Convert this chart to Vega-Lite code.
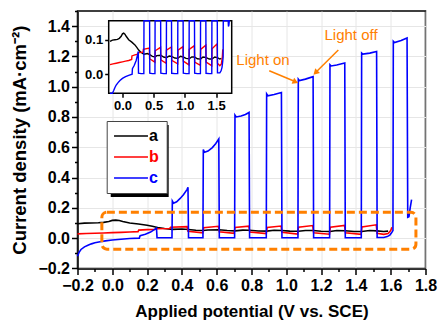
{
  "$schema": "https://vega.github.io/schema/vega-lite/v6.json",
  "width": 348,
  "height": 257.4,
  "autosize": {"type": "none"},
  "padding": {"left": 77.5, "top": 11, "right": 16.5, "bottom": 53.6},
  "background": "white",
  "config": {
    "font": "Liberation Sans",
    "view": {"stroke": "black", "strokeWidth": 1.5},
    "axis": {
      "domainColor": "black", "domainWidth": 1.5, "tickColor": "black", "tickWidth": 1.5,
      "labelColor": "black", "titleColor": "black", "labelFontWeight": "bold", "titleFontWeight": "bold",
      "labelFont": "Liberation Sans", "titleFont": "Liberation Sans", "gridColor": "#e6e6e6", "gridWidth": 1,
      "labelOverlap": false, "labelFlush": false
    }
  },
  "datasets": {
    "curves": [
      {"s":"a","V":-0.2,"J":0.095},{"s":"a","V":-0.16,"J":0.099},{"s":"a","V":-0.12,"J":0.1},{"s":"a","V":-0.08,"J":0.101},
      {"s":"a","V":-0.05,"J":0.104},{"s":"a","V":-0.02,"J":0.11},{"s":"a","V":0.0,"J":0.117},{"s":"a","V":0.02,"J":0.119},
      {"s":"a","V":0.04,"J":0.116},{"s":"a","V":0.06,"J":0.11},{"s":"a","V":0.1,"J":0.1},{"s":"a","V":0.15,"J":0.093},
      {"s":"a","V":0.2,"J":0.085},{"s":"a","V":0.23,"J":0.078},{"s":"a","V":0.26,"J":0.07},{"s":"a","V":0.3,"J":0.063},
      {"s":"a","V":0.345,"J":0.058},{"s":"a","V":0.4,"J":0.06},{"s":"a","V":0.437,"J":0.057},{"s":"a","V":0.48,"J":0.052},
      {"s":"a","V":0.523,"J":0.05},{"s":"a","V":0.55,"J":0.054},{"s":"a","V":0.613,"J":0.055},{"s":"a","V":0.66,"J":0.05},
      {"s":"a","V":0.705,"J":0.048},{"s":"a","V":0.75,"J":0.053},{"s":"a","V":0.787,"J":0.052},{"s":"a","V":0.84,"J":0.047},
      {"s":"a","V":0.887,"J":0.046},{"s":"a","V":0.93,"J":0.052},{"s":"a","V":0.973,"J":0.05},{"s":"a","V":1.02,"J":0.046},
      {"s":"a","V":1.069,"J":0.045},{"s":"a","V":1.11,"J":0.05},{"s":"a","V":1.155,"J":0.05},{"s":"a","V":1.2,"J":0.045},
      {"s":"a","V":1.251,"J":0.044},{"s":"a","V":1.29,"J":0.05},{"s":"a","V":1.337,"J":0.049},{"s":"a","V":1.39,"J":0.044},
      {"s":"a","V":1.433,"J":0.044},{"s":"a","V":1.48,"J":0.05},{"s":"a","V":1.52,"J":0.048},{"s":"a","V":1.56,"J":0.044},
      {"s":"a","V":1.585,"J":0.046},

      {"s":"b","V":-0.2,"J":0.028},{"s":"b","V":-0.15,"J":0.03},{"s":"b","V":-0.1,"J":0.032},{"s":"b","V":-0.05,"J":0.034},
      {"s":"b","V":0.0,"J":0.036},{"s":"b","V":0.05,"J":0.038},{"s":"b","V":0.1,"J":0.04},{"s":"b","V":0.148,"J":0.043},
      {"s":"b","V":0.152,"J":0.053},{"s":"b","V":0.2,"J":0.056},{"s":"b","V":0.245,"J":0.058},{"s":"b","V":0.25,"J":0.062},
      {"s":"b","V":0.33,"J":0.064},{"s":"b","V":0.335,"J":0.072},{"s":"b","V":0.43,"J":0.076},{"s":"b","V":0.435,"J":0.045},
      {"s":"b","V":0.52,"J":0.035},{"s":"b","V":0.525,"J":0.068},{"s":"b","V":0.61,"J":0.078},{"s":"b","V":0.615,"J":0.042},
      {"s":"b","V":0.7,"J":0.032},{"s":"b","V":0.705,"J":0.07},{"s":"b","V":0.785,"J":0.079},{"s":"b","V":0.79,"J":0.04},
      {"s":"b","V":0.885,"J":0.03},{"s":"b","V":0.89,"J":0.07},{"s":"b","V":0.97,"J":0.08},{"s":"b","V":0.975,"J":0.038},
      {"s":"b","V":1.065,"J":0.027},{"s":"b","V":1.07,"J":0.072},{"s":"b","V":1.152,"J":0.083},{"s":"b","V":1.157,"J":0.035},
      {"s":"b","V":1.248,"J":0.026},{"s":"b","V":1.253,"J":0.072},{"s":"b","V":1.335,"J":0.084},{"s":"b","V":1.34,"J":0.035},
      {"s":"b","V":1.43,"J":0.025},{"s":"b","V":1.435,"J":0.074},{"s":"b","V":1.517,"J":0.088},{"s":"b","V":1.522,"J":0.032},
      {"s":"b","V":1.56,"J":0.025},{"s":"b","V":1.585,"J":0.03},{"s":"b","V":1.6,"J":0.05},{"s":"b","V":1.607,"J":0.072},

      {"s":"c","V":-0.2,"J":-0.12},{"s":"c","V":-0.19,"J":-0.092},{"s":"c","V":-0.18,"J":-0.075},{"s":"c","V":-0.16,"J":-0.058},
      {"s":"c","V":-0.14,"J":-0.047},{"s":"c","V":-0.12,"J":-0.038},{"s":"c","V":-0.1,"J":-0.031},{"s":"c","V":-0.07,"J":-0.024},
      {"s":"c","V":-0.04,"J":-0.018},{"s":"c","V":0.0,"J":-0.012},{"s":"c","V":0.05,"J":-0.007},{"s":"c","V":0.1,"J":-0.003},
      {"s":"c","V":0.155,"J":0.0},{"s":"c","V":0.16,"J":0.016},{"s":"c","V":0.19,"J":0.026},{"s":"c","V":0.22,"J":0.04},
      {"s":"c","V":0.25,"J":0.062},{"s":"c","V":0.254,"J":0.066},{"s":"c","V":0.257,"J":0.003},{"s":"c","V":0.3,"J":0.002},
      {"s":"c","V":0.343,"J":0.002},{"s":"c","V":0.345,"J":0.245},{"s":"c","V":0.352,"J":0.231},{"s":"c","V":0.37,"J":0.24},
      {"s":"c","V":0.39,"J":0.262},{"s":"c","V":0.41,"J":0.288},{"s":"c","V":0.43,"J":0.322},{"s":"c","V":0.435,"J":0.336},
      {"s":"c","V":0.438,"J":0.003},{"s":"c","V":0.48,"J":0.002},{"s":"c","V":0.521,"J":0.002},{"s":"c","V":0.523,"J":0.585},
      {"s":"c","V":0.53,"J":0.567},{"s":"c","V":0.55,"J":0.575},{"s":"c","V":0.575,"J":0.598},{"s":"c","V":0.595,"J":0.625},
      {"s":"c","V":0.612,"J":0.655},{"s":"c","V":0.615,"J":0.003},{"s":"c","V":0.66,"J":0.002},{"s":"c","V":0.703,"J":0.002},
      {"s":"c","V":0.705,"J":0.812},{"s":"c","V":0.712,"J":0.8},{"s":"c","V":0.74,"J":0.806},{"s":"c","V":0.765,"J":0.816},
      {"s":"c","V":0.786,"J":0.83},{"s":"c","V":0.789,"J":0.003},{"s":"c","V":0.84,"J":0.002},{"s":"c","V":0.885,"J":0.002},
      {"s":"c","V":0.887,"J":0.952},{"s":"c","V":0.894,"J":0.94},{"s":"c","V":0.93,"J":0.948},{"s":"c","V":0.972,"J":0.962},
      {"s":"c","V":0.975,"J":0.003},{"s":"c","V":1.02,"J":0.002},{"s":"c","V":1.067,"J":0.002},{"s":"c","V":1.069,"J":1.05},
      {"s":"c","V":1.076,"J":1.04},{"s":"c","V":1.11,"J":1.05},{"s":"c","V":1.154,"J":1.066},{"s":"c","V":1.157,"J":0.003},
      {"s":"c","V":1.2,"J":0.002},{"s":"c","V":1.249,"J":0.002},{"s":"c","V":1.251,"J":1.145},{"s":"c","V":1.258,"J":1.137},
      {"s":"c","V":1.29,"J":1.143},{"s":"c","V":1.336,"J":1.156},{"s":"c","V":1.339,"J":0.003},{"s":"c","V":1.39,"J":0.002},
      {"s":"c","V":1.431,"J":0.002},{"s":"c","V":1.433,"J":1.222},{"s":"c","V":1.44,"J":1.215},{"s":"c","V":1.48,"J":1.222},
      {"s":"c","V":1.519,"J":1.232},{"s":"c","V":1.522,"J":0.004},{"s":"c","V":1.56,"J":0.004},{"s":"c","V":1.58,"J":0.01},
      {"s":"c","V":1.595,"J":0.02},{"s":"c","V":1.605,"J":0.035},{"s":"c","V":1.613,"J":0.05},{"s":"c","V":1.615,"J":1.3},
      {"s":"c","V":1.622,"J":1.292},{"s":"c","V":1.66,"J":1.305},{"s":"c","V":1.694,"J":1.322},{"s":"c","V":1.698,"J":0.138},
      {"s":"c","V":1.705,"J":0.142},{"s":"c","V":1.712,"J":0.2},{"s":"c","V":1.72,"J":0.255}
    ]
  },
  "layer": [
    {
      "resolve": {"axis": {"x": "independent", "y": "independent"}},
      "layer": [
        {
          "data": {"name": "curves"},
          "mark": {"type": "line", "strokeWidth": 1.6},
          "encoding": {
            "x": {
              "field": "V", "type": "quantitative",
              "scale": {"domain": [-0.2, 1.8], "nice": false, "zero": false},
              "axis": {
                "orient": "bottom",
                "title": "Applied potential (V vs. SCE)",
                "values": [-0.2,0,0.2,0.4,0.6,0.8,1,1.2,1.4,1.6,1.8],
                "format": ".1f", "tickSize": 6,
                "grid": true, "labelFlush": false, "labelOverlap": false,
                "labelFontSize": 16, "labelPadding": 3, "titleFontSize": 17, "titlePadding": 10
              }
            },
            "y": {
              "field": "J", "type": "quantitative",
              "scale": {"domain": [-0.2, 1.5], "nice": false, "zero": false},
              "axis": {
                "orient": "left",
                "title": "Current density (mA·cm⁻²)",
                "values": [-0.2,0,0.2,0.4,0.6,0.8,1,1.2,1.4],
                "format": ".1f", "tickSize": 6,
                "grid": true, "labelFlush": false, "labelOverlap": false,
                "labelFontSize": 16, "labelPadding": 2, "titleFontSize": 18.5, "titlePadding": 8
              }
            },
            "color": {
              "field": "s", "type": "nominal",
              "scale": {"domain": ["a", "b", "c"], "range": ["#000000", "#ff0000", "#0000ff"]},
              "legend": {
                "title": null, "orient": "none", "legendX": 29.2, "legendY": 110,
                "fillColor": "white", "strokeColor": "#444444", "padding": 7, "rowPadding": 5,
                "symbolType": "M-3,0H3", "symbolSize": 128, "symbolStrokeWidth": 1.5,
                "symbolOffset": 9.3, "labelOffset": 10,
                "labelFontSize": 16, "labelFontWeight": "bold", "labelFont": "Liberation Sans",
                "labelColor": {"expr": "datum.label=='a' ? '#000000' : datum.label=='b' ? '#ff0000' : '#0000ff'"}
              }
            }
          }
        },
        {
          "data": {"values": [{}]},
          "mark": {"type": "rect", "fill": "none", "stroke": "#ff8000", "strokeWidth": 3, "strokeDash": [8, 4], "cornerRadius": 5},
          "encoding": {
            "x": {"datum": -0.06, "type": "quantitative", "axis": {"orient": "bottom", "values": [-0.1,0.1,0.3,0.5,0.7,0.9,1.1,1.3,1.5,1.7], "labels": false, "domain": false, "grid": false, "tickSize": 3, "title": null}},
            "x2": {"datum": 1.745},
            "y": {"datum": -0.073, "type": "quantitative", "axis": {"orient": "left", "values": [-0.1,0.1,0.3,0.5,0.7,0.9,1.1,1.3,1.5], "labels": false, "domain": false, "grid": false, "tickSize": 3, "title": null}},
            "y2": {"datum": 0.171}
          }
        },
        {
          "data": {"values": [{}]},
          "mark": {"type": "rect", "fill": "black"},
          "encoding": {
            "x": {"datum": -0.009, "type": "quantitative", "axis": null}, "x2": {"datum": 0.324},
            "y": {"datum": 0.2715, "type": "quantitative", "axis": null}, "y2": {"datum": 0.747}
          }
        },
        {
          "data": {"values": [{"t": "Light on", "V": 0.866, "J": 1.145}, {"t": "Light off", "V": 1.372, "J": 1.31}]},
          "mark": {"type": "text", "color": "#ff8000", "fontSize": 15, "font": "Liberation Sans", "align": "center", "baseline": "alphabetic"},
          "encoding": {
            "x": {"field": "V", "type": "quantitative", "axis": null},
            "y": {"field": "J", "type": "quantitative", "axis": null},
            "text": {"field": "t"}
          }
        },
        {
          "data": {"values": [{}]},
          "mark": {"type": "rule", "color": "#ff8000", "strokeWidth": 1.5},
          "encoding": {
            "x": {"datum": 0.902, "type": "quantitative", "axis": null}, "y": {"datum": 1.105, "type": "quantitative", "axis": null},
            "x2": {"datum": 1.05}, "y2": {"datum": 1.034}
          }
        },
        {
          "data": {"values": [{}]},
          "mark": {"type": "rule", "color": "#ff8000", "strokeWidth": 1.5},
          "encoding": {
            "x": {"datum": 1.299, "type": "quantitative", "axis": null}, "y": {"datum": 1.242, "type": "quantitative", "axis": null},
            "x2": {"datum": 1.17}, "y2": {"datum": 1.095}
          }
        },
        {
          "data": {"values": [{}]},
          "mark": {"type": "point", "shape": "triangle-up", "filled": true, "color": "#ff8000", "size": 45, "angle": 113, "opacity": 1},
          "encoding": {"x": {"datum": 1.053, "type": "quantitative", "axis": null}, "y": {"datum": 1.032, "type": "quantitative", "axis": null}}
        },
        {
          "data": {"values": [{}]},
          "mark": {"type": "point", "shape": "triangle-up", "filled": true, "color": "#ff8000", "size": 45, "angle": 225, "opacity": 1},
          "encoding": {"x": {"datum": 1.168, "type": "quantitative", "axis": null}, "y": {"datum": 1.092, "type": "quantitative", "axis": null}}
        }
      ]
    },
    {
      "layer": [
        {
          "data": {"values": [{}]},
          "mark": {"type": "rect", "fill": "white", "stroke": "black", "strokeWidth": 1.5},
          "encoding": {
            "x": {
              "datum": -0.22, "type": "quantitative",
              "scale": {"domain": [-0.22, 1.75], "range": [31.2, 154.2], "nice": false, "zero": false, "clamp": true},
              "axis": {
                "orient": "bottom", "offset": -175.1, "values": [0, 0.5, 1, 1.5], "format": ".1f",
                "domain": false, "grid": false, "title": null, "labelFontSize": 13, "tickSize": 4,
                "labelPadding": 2, "labelFlush": false, "labelOverlap": false
              }
            },
            "x2": {"datum": 1.75},
            "y": {
              "datum": -0.055, "type": "quantitative",
              "scale": {"domain": [-0.055, 0.155], "range": [82.3, 9.7], "nice": false, "zero": false, "clamp": true},
              "axis": {
                "orient": "left", "offset": -31.2, "values": [0, 0.1], "format": ".1f",
                "domain": false, "grid": false, "title": null, "labelFontSize": 13, "tickSize": 4,
                "labelPadding": 2, "labelFlush": false, "labelOverlap": false
              }
            },
            "y2": {"datum": 0.155}
          }
        },
        {
          "data": {"name": "curves"},
          "mark": {"type": "line", "strokeWidth": 1.4},
          "encoding": {
            "x": {"field": "V", "type": "quantitative"},
            "y": {"field": "J", "type": "quantitative"},
            "color": {"field": "s", "type": "nominal"}
          }
        }
      ]
    }
  ],
  "resolve": {"scale": {"x": "independent", "y": "independent"}}
}
